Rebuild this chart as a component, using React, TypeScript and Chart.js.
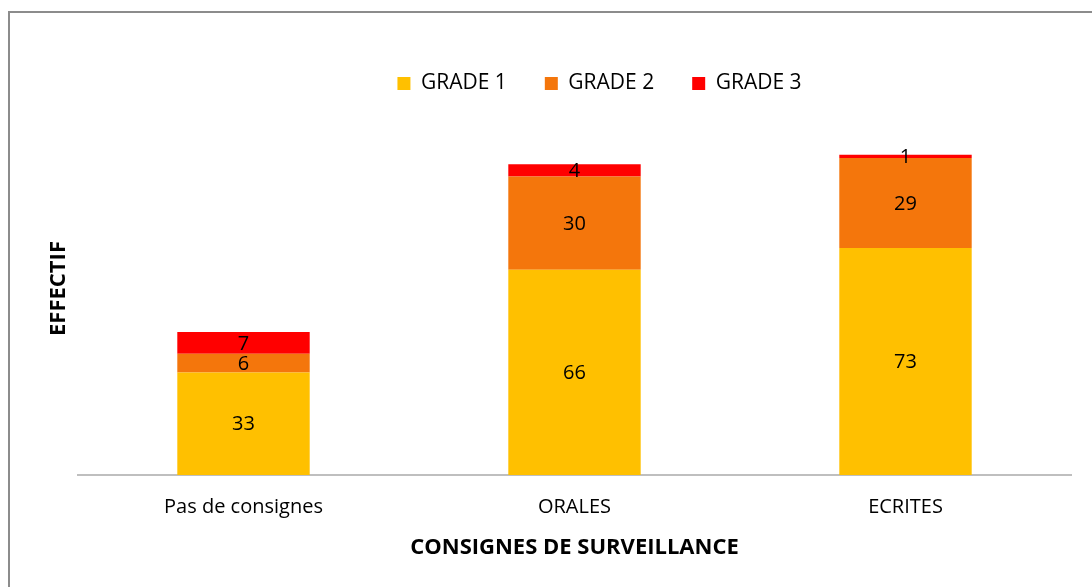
import React, { useEffect, useRef } from "react";
import { Chart, registerables } from "chart.js";

Chart.register(...registerables);

const categories = ["Pas de consignes", "ORALES", "ECRITES"];
const seriesNames = ["GRADE 1", "GRADE 2", "GRADE 3"];
const grade1 = [33, 66, 73];
const grade2 = [6, 30, 29];
const grade3 = [7, 4, 1];
const seriesColors = ["#FFC000", "#F4760C", "#FF0000"];
const xTitle = "CONSIGNES DE SURVEILLANCE";
const yTitle = "EFFECTIF";

const FONT = "'Open Sans', Lato, sans-serif";
const W = 1092;
const H = 587;
const LEGEND_SHIFT = 64;

const segmentLabels = {
  id: "segmentLabels",
  afterDatasetsDraw(chart: any) {
    const ctx = chart.ctx;
    ctx.save();
    ctx.font = `20px ${FONT}`;
    ctx.fillStyle = "#000";
    ctx.textAlign = "center";
    ctx.textBaseline = "middle";
    chart.data.datasets.forEach((ds: any, i: number) => {
      const meta = chart.getDatasetMeta(i);
      meta.data.forEach((el: any, j: number) => {
        const p = el.getProps(["x", "y", "base"], true);
        ctx.fillText(String(ds.data[j]), p.x, (p.y + p.base) / 2 + 1);
      });
    });
    ctx.restore();
  },
};

const legendShift = {
  id: "legendShift",
  afterLayout(chart: any) {
    const l = chart.legend;
    if (l) {
      l.left += LEGEND_SHIFT;
      l.right += LEGEND_SHIFT;
    }
  },
};

export default function App() {
  const ref = useRef<HTMLCanvasElement | null>(null);
  useEffect(() => {
    if (!ref.current) return;
    const data = [grade1, grade2, grade3];
    const chart = new Chart(ref.current, {
      type: "bar",
      data: {
        labels: categories,
        datasets: seriesNames.map((name, i) => ({
          label: name,
          data: data[i],
          backgroundColor: seriesColors[i],
          borderWidth: 0,
          categoryPercentage: 1,
          barPercentage: 0.4,
        })),
      },
      options: {
        animation: false,
        responsive: false,
        maintainAspectRatio: false,
        layout: { padding: { left: 0, right: 21, top: 35, bottom: 0 } },
        plugins: {
          tooltip: { enabled: false },
          legend: {
            position: "top",
            align: "center",
            maxHeight: 67,
            labels: {
              boxWidth: 13,
              boxHeight: 13,
              padding: 38,
              color: "#000",
              font: { family: FONT, size: 21 },
            },
          },
        },
        scales: {
          x: {
            stacked: true,
            grid: { display: false, drawTicks: false },
            border: { display: true, color: "#BFBFBF", width: 2 },
            ticks: { color: "#000", padding: 20, font: { family: FONT, size: 20 } },
            title: {
              display: true,
              text: xTitle,
              color: "#000",
              font: { family: FONT, size: 22, weight: "bold" },
              padding: { top: 0, bottom: 26 },
            },
            afterFit: (s: any) => {
              s.height = 112;
            },
          },
          y: {
            stacked: true,
            min: 0,
            max: 120,
            grid: { display: false, drawTicks: false },
            border: { display: false },
            ticks: { display: false },
            title: {
              display: true,
              text: yTitle,
              color: "#000",
              font: { family: FONT, size: 22, weight: "bold" },
              padding: { top: 46, bottom: 0 },
            },
            afterFit: (s: any) => {
              s.width = 78;
            },
          },
        },
      },
      plugins: [segmentLabels, legendShift],
    });
    return () => chart.destroy();
  }, []);

  return (
    <div style={{ position: "fixed", left: 0, top: 0, width: W, height: H, background: "#fff", overflow: "hidden" }}>
      <canvas ref={ref} width={W} height={H} style={{ position: "absolute", left: 0, top: 0, width: W, height: H }} />
      <div
        style={{
          position: "absolute",
          left: 8,
          top: 11,
          width: 1200,
          height: 700,
          border: "2px solid #8C8C8C",
          pointerEvents: "none",
        }}
      />
    </div>
  );
}
